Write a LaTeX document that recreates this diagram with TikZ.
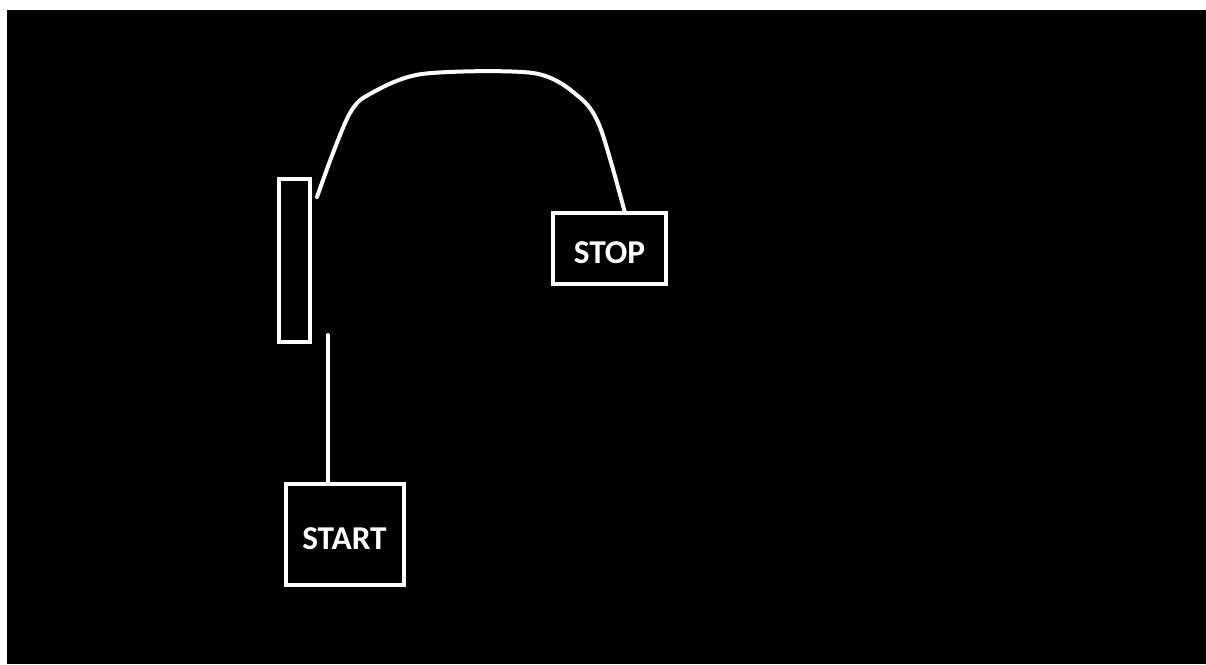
\documentclass[tikz,border=0pt]{standalone}
\usepackage{fontspec}
\setmainfont{Carlito}
\usetikzlibrary{positioning}

\begin{document}
\begin{tikzpicture}[
    x=0.75pt, y=-0.75pt,
    box/.style={draw=white, line width=3pt, align=center, text=white,
                font=\fontsize{25}{29}\selectfont\bfseries, inner sep=0pt,
                text height=22pt},
    wire/.style={draw=white, line width=3pt, line cap=round}
  ]
    % page and dark canvas
    \fill[white] (0,0) rectangle (1206,664);
    \fill[black] (7,10) rectangle (1206,664);

    \node[box, minimum width=23.25pt, minimum height=122.25pt] (bar) at (294.5,260.5) {};
    \node[box, minimum width=88.5pt, minimum height=75.75pt] (start) at (344.5,534.5) {START};
    \node[box, minimum width=84.75pt, minimum height=53.25pt] (stop) at (609.5,248.5) {STOP};

    \coordinate (gap) at (327.5,335);
    \coordinate (tip) at (317,197);
    \coordinate (land) at (625,213);

    \draw[wire] (start.north -| gap) -- (gap);
    \draw[wire] plot[smooth, tension=0.5] coordinates
      {(tip) (333,153) (350,113) (368,95) (422,74) (533,73) (578,96) (600,127) (land)};
  \end{tikzpicture}
\end{document}
